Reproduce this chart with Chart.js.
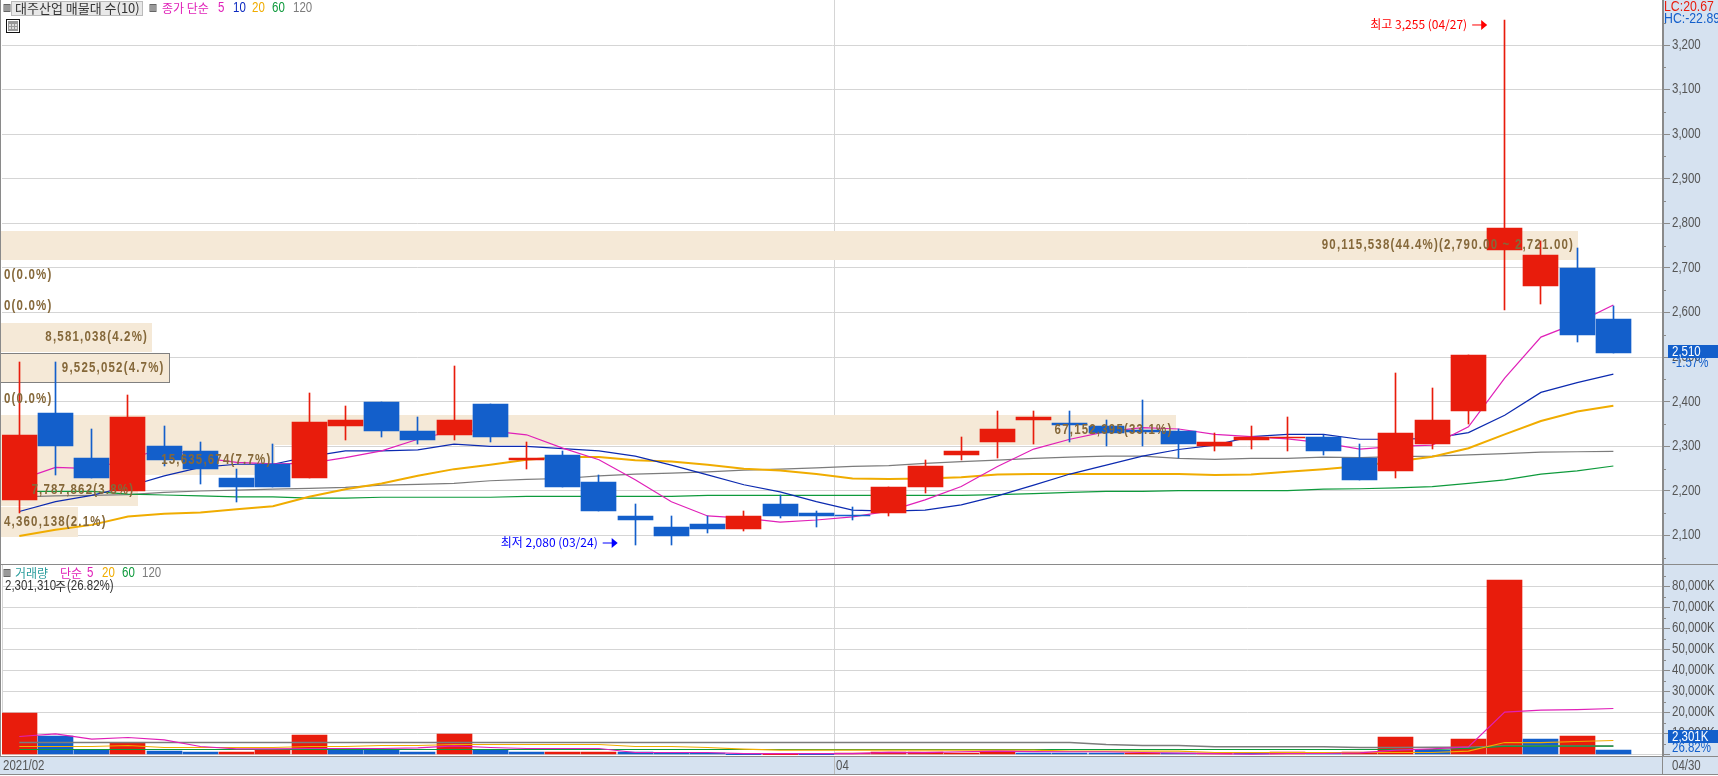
<!DOCTYPE html>
<html>
<head>
<meta charset="utf-8">
<title>대주산업 매물대</title>
<script src="https://cdn.jsdelivr.net/npm/chart.js@4/dist/chart.umd.min.js"></script>
<style>
html, body { margin: 0; padding: 0; background: #fff; overflow: hidden; }
#wrap { position: relative; width: 1718px; height: 776px; }
canvas { position: absolute; left: 0; }
</style>
</head>
<body>
<div id="wrap">
  <canvas id="priceChart" width="1718" height="564" style="top:0"></canvas>
  <canvas id="volumeChart" width="1718" height="212" style="top:564px"></canvas>
</div>
<script>
// 일봉 45개 (2021/02/26 ~ 04/30)
var dates = ['02/26','03/02','03/03','03/04','03/05','03/08','03/09','03/10','03/11','03/12','03/15','03/16','03/17','03/18','03/19','03/22','03/23','03/24','03/25','03/26','03/29','03/30','03/31','04/01','04/02','04/05','04/06','04/07','04/08','04/09','04/12','04/13','04/14','04/15','04/16','04/19','04/20','04/21','04/22','04/23','04/26','04/27','04/28','04/29','04/30'];
var openPrice = [2180,2375,2275,2200,2300,2290,2230,2260,2230,2345,2400,2335,2325,2395,2270,2280,2220,2145,2120,2125,2115,2170,2150,2147,2150,2210,2280,2310,2360,2352,2345,2337,2335,2300,2315,2318,2320,2275,2245,2305,2380,2740,2660,2700,2585];
var closePrice = [2325,2300,2230,2365,2270,2250,2210,2210,2355,2360,2335,2315,2360,2320,2275,2210,2155,2135,2100,2115,2145,2145,2145,2144,2210,2255,2290,2340,2365,2348,2330,2333,2305,2310,2320,2322,2290,2225,2330,2360,2505,2790,2730,2550,2510];
var highPrice = [2490,2490,2340,2415,2345,2310,2250,2305,2420,2390,2400,2365,2480,2395,2310,2290,2235,2170,2145,2145,2155,2190,2155,2165,2210,2270,2320,2380,2380,2380,2360,2405,2340,2330,2345,2365,2325,2305,2465,2430,2505,3255,2760,2745,2615];
var lowPrice = [2150,2235,2230,2200,2255,2215,2175,2210,2230,2315,2320,2305,2315,2310,2250,2210,2155,2080,2080,2105,2110,2140,2120,2135,2145,2195,2270,2275,2305,2310,2300,2300,2275,2290,2295,2290,2280,2225,2230,2295,2350,2605,2620,2535,2510];

var ma5 = [2225,2253,2250,2270,2297,2275,2264,2261,2262,2275,2290,2316,2335,2335,2326,2296,2270,2225,2176,2144,2139,2130,2135,2142,2155,2180,2210,2255,2294,2316,2333,2342,2339,2327,2322,2317,2308,2294,2300,2303,2344,2453,2545,2577,2617];
var ma10 = [2154,2176,2190,2210,2234,2253,2260,2260,2277,2290,2290,2292,2305,2300,2300,2295,2290,2278,2258,2236,2214,2198,2176,2157,2155,2157,2169,2189,2213,2238,2258,2278,2293,2303,2322,2327,2327,2316,2316,2318,2331,2370,2421,2443,2462];
var ma20 = [2099,2113,2124,2143,2149,2152,2159,2166,2187,2204,2217,2234,2249,2259,2270,2276,2276,2269,2266,2259,2250,2246,2238,2228,2227,2228,2231,2237,2238,2238,2238,2238,2238,2236,2237,2243,2249,2256,2266,2277,2296,2327,2357,2378,2391];
var ma60 = [2199,2199,2199,2193,2191,2189,2187,2187,2184,2184,2186,2186,2186,2186,2188,2188,2188,2188,2188,2190,2190,2190,2190,2190,2190,2190,2190,2192,2194,2197,2199,2199,2201,2201,2201,2201,2204,2205,2207,2210,2217,2225,2238,2245,2256];
var ma120 = [2187,2189,2190,2192,2197,2200,2202,2204,2206,2208,2213,2215,2217,2223,2226,2228,2234,2238,2240,2243,2247,2249,2252,2255,2257,2262,2266,2269,2273,2276,2278,2278,2273,2271,2273,2273,2276,2275,2277,2278,2281,2284,2287,2288,2289];

// 거래량 (천주)
var volume = [19700,8730,2100,5400,1590,1100,1150,2060,9200,2060,2060,1100,9680,2060,1100,1100,1100,1300,800,800,400,400,400,500,1100,1100,800,1900,700,600,600,700,600,600,800,1100,630,1270,8250,2380,7300,83200,7300,8730,2301];
var volumeUp = [1,0,0,1,0,0,1,1,1,0,0,0,1,0,0,1,1,0,0,0,0,1,0,1,1,1,1,1,0,0,0,1,0,1,0,1,0,1,1,0,1,1,0,1,0];
var volMa5 = [8570,9840,7300,8090,7000,3810,2700,2700,2860,2860,2860,3170,4130,3330,2860,2860,2850,950,950,950,400,400,400,450,1000,900,1300,1650,1350,1300,1300,950,700,400,160,470,480,800,2060,2700,3650,20150,21100,21400,21900];
var volMa20 = [3810,3810,3810,4285,3330,3330,3330,3330,3810,3810,4285,4285,4760,4760,4760,4760,4760,3808,3808,3330,2600,2100,2047,2047,2047,2047,2047,2047,2047,1570,1570,1570,1570,950,950,950,950,950,950,950,1600,5700,5700,6190,6660];
var volMa60 = [2380,2380,2380,2380,2380,2380,2380,2380,2380,2380,2380,2380,2380,2380,2380,2380,2380,2380,2380,2380,2380,2380,2380,2380,2380,2380,2380,2380,2380,2380,2380,2380,2380,2380,2380,2380,2380,2380,2380,2380,2900,3900,3970,3970,3970];
var volMa120 = [5700,5700,5700,5700,5700,5700,5700,5700,5700,5700,5700,5700,5700,5700,5700,5700,5700,5700,5700,5700,5700,5700,5700,5700,5700,5700,5700,5700,5700,5700,4760,4285,4285,3700,3700,3700,3700,3300,3300,3400,3500,4000,4000,4000,4000];

// 매물대 10개
var bandHigh = [2783,2716,2648,2577,2509,2438,2370,2303,2236,2164];
var bandLow = [2718,2651,2583,2512,2444,2373,2303,2236,2166,2097];
var bandVolume = [90115538,0,0,8581038,9525052,0,67152395,15635674,7787862,4360138];
var bandLabel = ['90,115,538(44.4%)(2,790.00 ~ 2,721.00)','0(0.0%)','0(0.0%)','8,581,038(4.2%)','9,525,052(4.7%)','0(0.0%)','67,152,395(33.1%)','15,635,674(7.7%)','7,787,862(3.8%)','4,360,138(2.1%)'];
var currentBand = 4;

var priceTicks = [2100,2200,2300,2400,2500,2600,2700,2800,2900,3000,3100,3200];
var volumeTicks = [0,10000,20000,30000,40000,50000,60000,70000,80000];
var monthLabels = ['2021/02', '04'];
var monthTicks = [-0.4775, 22.5];

var RED = '#E81C0C', BLUE = '#135FCB', GRID = '#D5D5D5', FRAME = '#8A8A8A', PANEL = '#D6E2F0';
var MAGENTA = '#E020B8', NAVY = '#0C2AB0', ORANGE = '#F0AC00', GREEN = '#0E9A3C', GRAY = '#7C7C7C';
var KR_FONT = '"Noto Sans CJK KR", sans-serif';

function pts(values) {
  return values.map(function (v, i) { return { x: i, y: v }; });
}
function ranges(a, b) {
  return a.map(function (v, i) { return { x: i, y: [v, b[i]] }; });
}
function lineSet(label, values, color, width) {
  return { type: 'line', label: label, data: pts(values), borderColor: color, borderWidth: width || 1.2, pointRadius: 0, tension: 0, order: 5 };
}
function barSet(label, data, colors, thickness, order) {
  return { type: 'bar', label: label, data: data, backgroundColor: colors, barThickness: thickness, grouped: false, borderWidth: 0, order: order };
}
function text(ctx, str, x, y, color, font, align) {
  ctx.fillStyle = color;
  ctx.font = font;
  ctx.textAlign = align || 'left';
  ctx.textBaseline = 'middle';
  ctx.fillText(str, x, y);
}
// 좁은 글자 (굴림 숫자 비슷하게)
function narrow(ctx, str, x, y, color, size, align, bold) {
  ctx.save();
  ctx.translate(x, y);
  ctx.scale(0.82, 1);
  if (bold) ctx.letterSpacing = '1.45px';
  text(ctx, str, 0, 0, color, (bold ? 'bold ' : '') + size + 'px "Liberation Sans"', align);
  ctx.restore();
}
function narrowWidth(ctx, str, size) {
  ctx.save();
  ctx.letterSpacing = '1.45px';
  ctx.font = 'bold ' + size + 'px "Liberation Sans"';
  var w = ctx.measureText(str).width * 0.82;
  ctx.restore();
  return w;
}
function square(ctx, x, y) {
  ctx.fillStyle = '#9A9A9A';
  ctx.fillRect(x, y, 5, 6);
  ctx.strokeStyle = '#666';
  ctx.strokeRect(x - 0.5, y - 0.5, 6, 7);
}
function xAxis(labels) {
  return {
    type: 'linear', min: -0.4775, max: 45.37, offset: false,
    afterBuildTicks: function (scale) {
      scale.ticks = labels.map(function (v) { return { value: v }; });
    },
    grid: { color: GRID, drawTicks: false, offset: false },
    border: { display: false },
    ticks: { display: false }
  };
}
function yAxis(min, max, tickValues) {
  return {
    position: 'right', min: min, max: max,
    afterBuildTicks: function (scale) {
      scale.ticks = tickValues.map(function (v) { return { value: v }; });
    },
    afterFit: function (s) { s.width = 55; s.paddingTop = 0; s.paddingBottom = 0; },
    ticks: { display: false },
    grid: { color: GRID, tickColor: FRAME, tickLength: 7 },
    border: { display: false }
  };
}

// 막대를 픽셀에 맞춤
var snapBars = {
  id: 'snapBars',
  beforeDatasetsDraw: function (chart) {
    chart.data.datasets.forEach(function (ds, i) {
      if (ds.type !== 'bar') return;
      chart.getDatasetMeta(i).data.forEach(function (el) {
        el.x = Math.round(el.x - 0.5) + 0.5;
        el.y = Math.round(el.y);
        el.base = Math.round(el.base);
        if (el.y === el.base) el.base = el.y + 1;
      });
    });
  }
};

var panel = {
  id: 'panel',
  beforeDraw: function (chart) {
    var c = chart.ctx, a = chart.chartArea;
    var bottom = chart.options.plugins.panel.bottom;
    c.save();
    c.fillStyle = '#fff';
    c.fillRect(0, 0, chart.width, chart.height);
    c.fillStyle = PANEL;
    c.fillRect(a.right, 0, chart.width - a.right, bottom);
    c.restore();
  },
  afterDraw: function (chart) {
    var c = chart.ctx, a = chart.chartArea, y = chart.scales.y;
    var o = chart.options.plugins.panel;
    c.save();
    c.strokeStyle = FRAME;
    c.lineWidth = 1;
    for (var v = o.minor; v < y.max; v += o.minor * 2) {
      if (v < y.min) continue;
      var py = Math.round(y.getPixelForValue(v)) + 0.5;
      c.beginPath(); c.moveTo(a.right, py); c.lineTo(a.right + 3, py); c.stroke();
    }
    c.fillStyle = FRAME;
    c.fillRect(0, 0, 1, o.bottom);
    c.fillRect(a.right - 1, 0, 2, o.bottom);
    y.ticks.forEach(function (t) {
      if (t.value > 0) narrow(c, t.value.toLocaleString('en-US') + o.suffix, 1672, y.getPixelForValue(t.value), '#555', 14);
    });
    c.restore();
  }
};

var bands = {
  id: 'bands',
  beforeDatasetsDraw: function (chart) {
    var c = chart.ctx, y = chart.scales.y, xv = chart.scales.xv;
    c.save();
    bandVolume.forEach(function (vol, i) {
      if (!vol) return;
      var top = Math.round(y.getPixelForValue(bandHigh[i]));
      var bot = Math.round(y.getPixelForValue(bandLow[i]));
      var right = Math.round(xv.getPixelForValue(vol));
      c.fillStyle = '#F5E9D7';
      c.fillRect(1, top, right - 1, bot - top);
      if (i === currentBand) {
        c.strokeStyle = '#808080';
        c.strokeRect(0.5, top + 0.5, right, bot - top);
      }
    });
    c.restore();
  },
  afterDatasetsDraw: function (chart) {
    var c = chart.ctx, y = chart.scales.y, xv = chart.scales.xv, x = chart.scales.x;
    c.save();
    bandVolume.forEach(function (vol, i) {
      var mid = y.getPixelForValue((bandHigh[i] + bandLow[i]) / 2);
      var right = xv.getPixelForValue(vol);
      var w = narrowWidth(c, bandLabel[i], 14);
      if (w + 8 < right) narrow(c, bandLabel[i], right - 4, mid, '#85683A', 14, 'right', true);
      else narrow(c, bandLabel[i], 4, mid, '#85683A', 14, 'left', true);
    });

    // 최고 / 최저 표시
    function marker(idx, price, label, color, dy) {
      var tip = x.getPixelForValue(idx) - 17.5;
      var py = y.getPixelForValue(price) + dy;
      text(c, label, tip - 20, py, color, '12px ' + KR_FONT, 'right');
      c.strokeStyle = color;
      c.fillStyle = color;
      c.lineWidth = 1;
      c.beginPath(); c.moveTo(tip - 15, py + 0.5); c.lineTo(tip - 4, py + 0.5); c.stroke();
      c.beginPath(); c.moveTo(tip, py + 0.5); c.lineTo(tip - 6, py - 4.5); c.lineTo(tip - 6, py + 5.5); c.closePath(); c.fill();
    }
    var hi = highPrice.indexOf(Math.max.apply(null, highPrice));
    var lo = lowPrice.indexOf(Math.min.apply(null, lowPrice));
    marker(hi, highPrice[hi], '최고 3,255 (' + dates[hi] + ')', '#FF0000', 4);
    marker(lo, lowPrice[lo], '최저 2,080 (' + dates[lo] + ')', '#0000FF', -2);
    c.restore();
  },
  afterDraw: function (chart) {
    var c = chart.ctx;
    c.save();
    // 상단 범례
    square(c, 4.5, 5);
    c.fillStyle = '#E8E8E8';
    c.fillRect(11, 1, 132, 14);
    c.strokeStyle = '#BBBBBB';
    c.strokeRect(11.5, 1.5, 131, 14);
    text(c, '대주산업 매물대 수(10)', 15, 8.5, '#333', '13px ' + KR_FONT);
    square(c, 150.5, 5);
    text(c, '종가 단순', 162, 8.5, MAGENTA, '12px ' + KR_FONT);
    narrow(c, '5', 218, 8.5, MAGENTA, 14);
    narrow(c, '10', 233, 8.5, '#0C2AC0', 14);
    narrow(c, '20', 252, 8.5, ORANGE, 14);
    narrow(c, '60', 272, 8.5, GREEN, 14);
    narrow(c, '120', 293, 8.5, GRAY, 14);
    // 표 아이콘
    c.fillStyle = '#fff';
    c.fillRect(6, 19, 14, 14);
    c.strokeStyle = '#111';
    c.strokeRect(6.5, 19.5, 13, 13);
    c.fillStyle = '#999';
    c.fillRect(8, 21, 10, 10);
    c.fillStyle = '#ddd';
    c.fillRect(9, 24, 2, 2); c.fillRect(12, 24, 2, 2); c.fillRect(15, 24, 2, 2);
    c.fillRect(9, 27, 2, 2); c.fillRect(12, 27, 2, 2); c.fillRect(15, 27, 2, 2);
    // 오른쪽 정보
    narrow(c, 'LC:20.67', 1664, 7, RED, 15);
    narrow(c, 'HC:-22.89', 1664, 19, BLUE, 15);
    var cy = Math.round(chart.scales.y.getPixelForValue(closePrice[44]));
    c.fillStyle = BLUE;
    c.fillRect(1668, cy - 8, 50, 13);
    narrow(c, '2,510', 1672, cy - 1, '#fff', 14);
    narrow(c, '-1.57%', 1672, cy + 10, BLUE, 14);
    c.restore();
  }
};

var volumeText = {
  id: 'volumeText',
  afterDraw: function (chart) {
    var c = chart.ctx, a = chart.chartArea;
    c.save();
    // 바닥 띠
    c.fillStyle = PANEL;
    c.fillRect(0, a.bottom + 1, chart.width, 19);
    c.fillStyle = FRAME;
    c.fillRect(0, a.bottom + 1, chart.width, 1);
    c.fillRect(0, a.bottom + 19, chart.width, 1);
    c.fillRect(a.right - 1, a.bottom, 1, 20);
    c.fillRect(0, 0, 1718, 1);
    var xs = chart.scales.x;
    monthLabels.forEach(function (label, i) {
      narrow(c, label, Math.round(xs.getPixelForValue(monthTicks[i])) + (i ? 2 : 1), a.bottom + 11, '#555', 14);
    });
    c.fillStyle = '#bbb';
    c.fillRect(Math.round(xs.getPixelForValue(monthTicks[1])), a.bottom + 2, 1, 17);
    narrow(c, dates[dates.length - 1], 1672, a.bottom + 11, '#555', 14);
    // 범례
    square(c, 4.5, 6);
    text(c, '거래량', 15, 9.5, '#2A9D9D', '12px ' + KR_FONT);
    text(c, '단순', 60, 9.5, MAGENTA, '12px ' + KR_FONT);
    narrow(c, '5', 87, 9.5, MAGENTA, 14);
    narrow(c, '20', 102, 9.5, ORANGE, 14);
    narrow(c, '60', 122, 9.5, GREEN, 14);
    narrow(c, '120', 142, 9.5, GRAY, 14);
    narrow(c, '2,301,310', 5, 22.5, '#333', 14);
    text(c, '주', 55, 22.5, '#333', '12px ' + KR_FONT);
    narrow(c, '(26.82%)', 67, 22.5, '#333', 14);
    // 현재값
    var cy = Math.round(chart.scales.y.getPixelForValue(volume[44]));
    c.fillStyle = BLUE;
    c.fillRect(1668, cy - 20, 50, 13);
    narrow(c, '2,301K', 1672, cy - 13, '#fff', 14);
    narrow(c, '26.82%', 1672, cy - 2, BLUE, 14);
    c.restore();
  }
};

var candleColors = closePrice.map(function (v, i) { return v >= openPrice[i] ? RED : BLUE; });

new Chart(document.getElementById('priceChart'), {
  type: 'bar',
  data: {
    datasets: [
      barSet('몸통', ranges(openPrice, closePrice), candleColors, 35, 1),
      barSet('꼬리', ranges(lowPrice, highPrice), candleColors, 1, 2),
      lineSet('5', ma5, MAGENTA),
      lineSet('10', ma10, NAVY),
      lineSet('20', ma20, ORANGE, 2),
      lineSet('60', ma60, GREEN),
      lineSet('120', ma120, GRAY)
    ]
  },
  plugins: [panel, snapBars, bands],
  options: {
    responsive: false,
    animation: false,
    devicePixelRatio: 1,
    layout: { padding: { left: 2 } },
    plugins: {
      legend: { display: false },
      tooltip: { enabled: false },
      panel: { bottom: 564, minor: 50, suffix: '' }
    },
    scales: {
      x: xAxis([monthTicks[1]]),
      xv: { type: 'linear', axis: 'x', display: false, offset: false, min: 0, max: 94970000 },
      y: yAxis(2036.3, 3300.9, priceTicks)
    }
  }
});

new Chart(document.getElementById('volumeChart'), {
  type: 'bar',
  data: {
    datasets: [
      barSet('거래량', pts(volume), volumeUp.map(function (u) { return u ? RED : BLUE; }), 35, 9),
      Object.assign(lineSet('120', volMa120, GRAY, 1.5), { order: 4 }),
      Object.assign(lineSet('60', volMa60, GREEN), { order: 3 }),
      Object.assign(lineSet('20', volMa20, ORANGE), { order: 2 }),
      Object.assign(lineSet('5', volMa5, MAGENTA), { order: 1 })
    ]
  },
  plugins: [panel, snapBars, volumeText],
  options: {
    responsive: false,
    animation: false,
    devicePixelRatio: 1,
    layout: { padding: { left: 2 } },
    plugins: {
      legend: { display: false },
      tooltip: { enabled: false },
      panel: { bottom: 210, minor: 5000, suffix: 'K' }
    },
    scales: {
      x: Object.assign(xAxis(monthTicks), {
        afterFit: function (s) { s.height = 21; }
      }),
      y: yAxis(-238, 90714, volumeTicks)
    }
  }
});
</script>
</body>
</html>
